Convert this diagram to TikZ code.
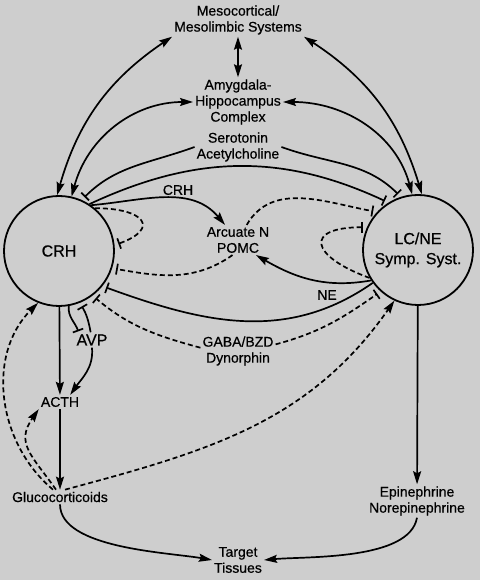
\documentclass[tikz,border=0pt]{standalone}
\usepackage{fontspec}
\setmainfont{Liberation Sans}[BoldFont=Liberation Sans,BoldFeatures={FakeBold=0.6}]
\usetikzlibrary{arrows.meta,positioning}
\definecolor{PanelGray}{RGB}{206,206,206}

\begin{document}
\begin{tikzpicture}[x=1pt,y=1pt, every node/.style={font=\fontsize{14}{16}\selectfont\bfseries,align=center,inner sep=2pt},
hub/.style={draw,circle,line width=1.8pt,minimum size=110pt,inner sep=0pt,font=\fontsize{16}{20}\selectfont\bfseries},
arrow/.style={-{Stealth[length=13pt,width=8pt,inset=2pt]},line width=1.7pt},
twoway/.style={{Stealth[length=13pt,width=8pt,inset=2pt]}-{Stealth[length=13pt,width=8pt,inset=2pt]},line width=1.7pt},
inhib/.style={-{Bar[width=11pt,line width=1.7pt]},line width=1.7pt,shorten >=4pt},
fb/.style={arrow,dash pattern=on 5pt off 3pt},
fbinhib/.style={inhib,dash pattern=on 5pt off 3pt}]
\fill[PanelGray] (0,0) rectangle (480,580);
\useasboundingbox (0,0) rectangle (480,580);
% brain centres
\node (meso) at (238,560) {Mesocortical/\\Mesolimbic Systems};
\node (amyg) at (238,478) {Amygdala-\\Hippocampus\\Complex};
\node (sero) at (238,433) {Serotonin\\Acetylcholine};
\node[hub] (crh) at (59,329) {CRH};
\node[hub] (lcne) at (418,330) {LC/NE\\Symp. Syst.};
\node (arc) at (238,340) {Arcuate N\\POMC};
\node (crhlbl) at (178,390) {CRH};
\node (nelbl) at (327,285) {NE};
\node (gaba) at (238,229) {GABA/BZD\\Dynorphin};
% periphery
\node[font=\fontsize{16}{20}\selectfont\bfseries] (avp) at (92,240) {AVP};
\node (acth) at (60,178) {ACTH};
\node (gluc) at (60,83) {Glucocorticoids};
\node (epi) at (417,79) {Epinephrine\\Norepinephrine};
\node (target) at (238,20) {Target\\Tissues};
% top arcs
\draw[twoway] (crh.92) to[bend left=20] (meso.south west);
\draw[twoway] (meso.south east) to[bend left=20] (lcne.86);
\draw[twoway] (meso) -- (amyg);
\draw[twoway] (crh.77) to[out=75,in=180] (amyg.west);
\draw[twoway] (amyg.east) to[out=0,in=105] (lcne.96);
\draw[inhib] (sero.west) to[out=200,in=45] (crh.66);
\draw[inhib] (sero.east) to[out=-20,in=135] (lcne.108);
\draw[inhib] (crh.57) to[out=25,in=155] (lcne.122);
% middle
\draw[arrow] (crh.55) to[out=5,in=130] ([xshift=-13pt]arc.north);
\draw[fbinhib] (crh.50) to[out=0,in=20,looseness=3] (crh.6);
\draw[fbinhib] (arc.250) to[out=215,in=-10] (crh.-18);
\draw[fbinhib] (arc.60) to[out=60,in=170] (lcne.137);
\draw[fbinhib] (lcne.210) to[out=160,in=180,looseness=3.2] (lcne.156);
\draw[arrow] (lcne.213) to[out=190,in=-30] (arc.320);
\draw[inhib] (lcne.216) to[out=215,in=-20] (crh.-39);
\draw[fbinhib] (gaba.175) to[out=165,in=-40] (crh.-53);
\draw[fbinhib] (gaba.10) to[out=15,in=215] (lcne.228);
% pituitary-adrenal
\draw[inhib,shorten >=1pt] (crh.-80) to[out=-95,in=110] (avp.150);
\draw[inhib] (avp.100) to[bend right=10] (crh.-68);
\draw[arrow] (avp.south) to[out=-85,in=55] (acth.35);
\draw[arrow] (crh) -- (acth);
\draw[arrow] (acth) -- (gluc);
\draw[fb] ([xshift=-7pt]gluc.north) to[out=140,in=225] (crh.-112);
\draw[fb] ([xshift=-4pt]gluc.north) to[out=125,in=235,looseness=1.3] (acth.south west);
\draw[fb] ([xshift=5pt]gluc.north) to[out=15,in=235] (lcne.245);
\draw[arrow] (lcne) -- (epi);
\draw[arrow] (gluc.south) to[out=-90,in=170,looseness=0.7] (target.west);
\draw[arrow] (epi.south) to[out=-100,in=5,looseness=0.7] (target.east);
\end{tikzpicture}
\end{document}
